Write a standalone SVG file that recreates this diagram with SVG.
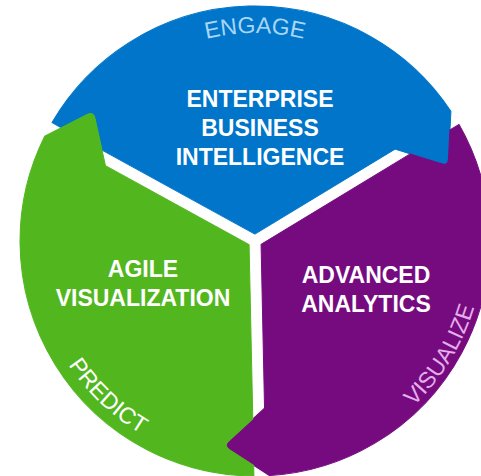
<svg xmlns="http://www.w3.org/2000/svg" xmlns:xlink="http://www.w3.org/1999/xlink" width="481" height="476" viewBox="0 0 481 476">
<style>
.lbl{font-family:"Liberation Sans",Arial,sans-serif;font-weight:bold;font-size:23px;fill:#ffffff;text-anchor:middle}
.arc{font-family:"Liberation Sans",Arial,sans-serif;font-size:23px;text-anchor:middle}
</style>
<defs>
<path id="seg" d="M 0,-6.93 L -151.07,-94.06 L -157.42,-126.16 Q -158.79,-133.02 -165.09,-129.98 L -191.18,-117.33 L -200.45,-122.66 A 235 235 0 0 1 198.6,-125.6 L 195.11,-77.98 Q 194.6,-71 187.97,-73.25 L 141.9,-88.9 Z" stroke-width="1" stroke-linejoin="round"/>
<path id="pEngage" d="M 74.9,137 A 208 208 0 0 1 435.1,137"/>
<path id="pPredict" d="M 31,241 A 224 224 0 0 0 255,465"/>
<path id="pVisualize" d="M 255,470 A 229 229 0 0 0 453.3,126.5"/>
</defs>
<rect width="481" height="476" fill="#ffffff"/>
<g id="enterprise-bi">
<use xlink:href="#seg" href="#seg" transform="translate(255,241) rotate(-1.2)" fill="#0075c9" stroke="#0075c9"/>
<text class="arc" fill="#a9d6f5"><textPath xlink:href="#pEngage" href="#pEngage" startOffset="50%">ENGAGE</textPath></text>
<text class="lbl" x="260" y="107">ENTERPRISE</text>
<text class="lbl" x="260" y="136">BUSINESS</text>
<text class="lbl" x="260" y="165">INTELLIGENCE</text>
</g>
<g id="advanced-analytics">
<use xlink:href="#seg" href="#seg" transform="translate(255,241) rotate(118.8)" fill="#760b80" stroke="#760b80"/>
<text class="arc" fill="#e4aeea"><textPath xlink:href="#pVisualize" href="#pVisualize" startOffset="48.75%">VISUALIZE</textPath></text>
<text class="lbl" x="366" y="283">ADVANCED</text>
<text class="lbl" x="366" y="312">ANALYTICS</text>
</g>
<g id="agile-visualization">
<use xlink:href="#seg" href="#seg" transform="translate(255,241) rotate(238.8)" fill="#52b71f" stroke="#52b71f"/>
<text class="arc" fill="#ffffff"><textPath xlink:href="#pPredict" href="#pPredict" startOffset="51.7%">PREDICT</textPath></text>
<text class="lbl" x="143" y="277">AGILE</text>
<text class="lbl" x="143" y="306">VISUALIZATION</text>
</g>
</svg>
